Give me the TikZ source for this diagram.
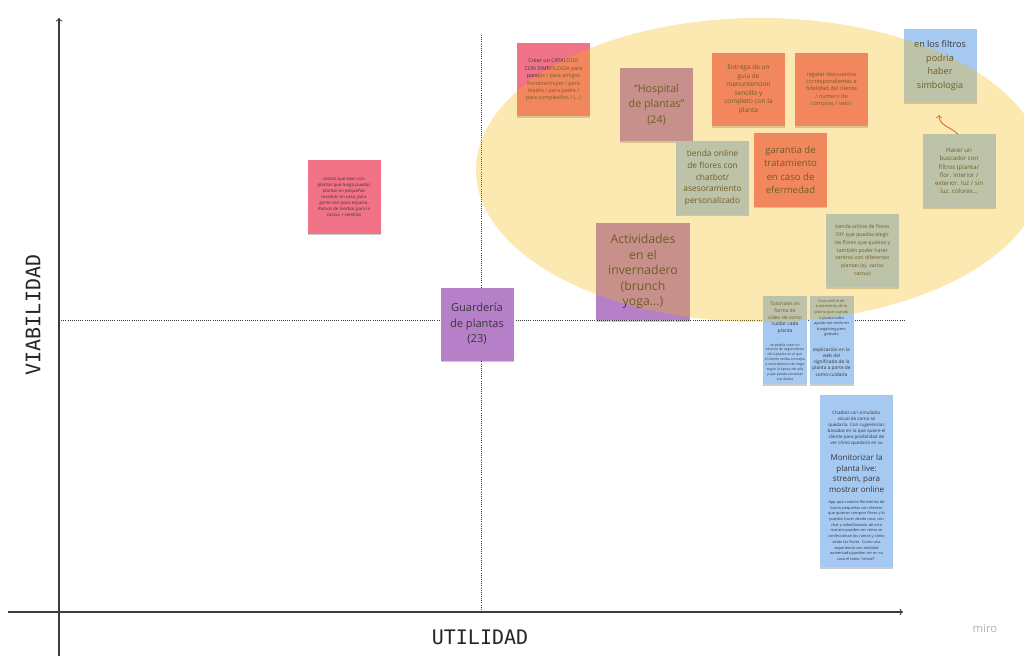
\documentclass[tikz,border=0pt]{standalone}
\usepackage{fontspec}
\setmainfont{Open Sans}
\newfontfamily\axisfont{DejaVu Sans Mono}
\usetikzlibrary{arrows,shadows}
\definecolor{notepink}{RGB}{241,115,135}
\definecolor{notepurple}{RGB}{181,128,200}
\definecolor{noteblue}{RGB}{166,201,242}
\definecolor{notetext}{RGB}{55,55,55}
\definecolor{zoneyellow}{RGB}{245,182,0}
\definecolor{axisgray}{RGB}{60,60,60}
\definecolor{linkorange}{RGB}{200,90,60}
\tikzset{every shadow/.style={fill=black,opacity=0.2,shadow xshift=0pt,shadow yshift=-1.2pt}}
\tikzset{note/.style={drop shadow,minimum width=54.75pt,minimum height=54.75pt,inner sep=1pt,align=center,text=notetext}}
\tikzset{smallnote/.style={note,minimum width=33pt,minimum height=33pt}}
\newcommand{\notesize}[2]{\fontsize{#1}{#2}\selectfont}

\begin{document}
\begin{tikzpicture}[x=0.75pt,y=-0.75pt]
\useasboundingbox (0,0) rectangle (1024,656);
% axes
\coordinate (ybot) at (59,656);
\coordinate (ytop) at (59,18);
\coordinate (xleft) at (8,612);
\coordinate (xright) at (903,612);
\draw[->,axisgray,line width=0.8pt] (ybot) -- (ytop);
\draw[->,axisgray,line width=0.8pt] (xleft) -- (xright);
\coordinate (vtop) at (481,35);
\coordinate (vbot) at (481,612);
\coordinate (hleft) at (59,320);
\coordinate (hright) at (905,320);
\draw[densely dotted,axisgray,line width=0.6pt] (vtop) -- (vbot);
\draw[densely dotted,axisgray,line width=0.6pt] (hleft) -- (hright);
\node (viab) [rotate=90,font=\axisfont\notesize{15}{15},text=black!85] at (33,315) {VIABILIDAD};
\node (util) [font=\axisfont\notesize{15}{15},text=black!85] at (480,637) {UTILIDAD};
\node (miro) [font=\notesize{8.5}{10},text=black!30] at (985,628) {miro};
%
\node (cestos) [note,fill=notepink,font=\notesize{3.3}{4.6}] at (344,197) {cestos que sean con\\plantas que luego puedas\\plantar en pequeñas\\macetas en casa, para\\gente con poco espacio.\\Ramos de hierbas para la\\cocina + semillas};
\node (catalogo) [note,fill=notepink,font=\notesize{4}{5.6}] at (553.5,80) {Crear un CATALOGO\\CON SIMBOLOGIA para\\parejas / para amigos\\hombre/mujer / para\\madre / para padre /\\para cumpleaños / (...)};
\node (hospital) [note,fill=notepurple,font=\notesize{8}{11.6}] at (656.5,104.5) {“Hospital\\de plantas”\\(24)};
\node (entrega) [note,fill=notepink,font=\notesize{4.9}{6.4}] at (748.5,89.5) {Entrega de un\\guia de\\manuntencion\\sencillo y\\completo con la\\planta};
\node (regalar) [note,fill=notepink,font=\notesize{4.2}{5.4}] at (831.5,89.5) {regalar descuentos\\correspondientes a\\fidelidad del cliente\\/ numero de\\compras / valor};
\node (chatweb) [note,fill=noteblue,font=\notesize{6.3}{8.8}] at (712.5,178) {tienda online\\de flores con\\chatbot/\\asesoramiento\\personalizado};
\node (garantia) [note,fill=notepink,font=\notesize{7.2}{10}] at (790.5,170) {garantia de\\tratamiento\\en caso de\\efermedad};
\node (activ) [note,fill=notepurple,minimum width=70.5pt,minimum height=72.75pt,font=\notesize{9.2}{11.6}] at (643,271.5) {Actividades\\en el\\invernadero\\(brunch\\yoga...)};
\node (filtros) [note,fill=noteblue,font=\notesize{6.8}{10.3}] at (940,65.5) {en los filtros\\podria\\haber\\simbologia};
\node (buscador) [note,fill=noteblue,font=\notesize{4.6}{6.2}] at (959,171) {Hacer un\\buscador con\\filtros (planta/\\flor. interior /\\exterior. luz / sin\\luz. colores...};
\node (diy) [note,fill=noteblue,font=\notesize{3.9}{5.8}] at (862.5,250.5) {tienda online de flores\\DIY que puedas elegir\\las flores que quieras y\\también poder hacer\\centros con diferentes\\plantas (ej. varios\\cactus)};
\node (guarderia) [note,fill=notepurple,font=\notesize{8.3}{11.6}] at (477,324) {Guardería\\de plantas\\(23)};
% small notes
\node (tutorial) [smallnote,fill=noteblue,font=\notesize{3.7}{5}] at (785,318) {Tutoriales en\\forma de\\video de como\\cuidar cada\\planta};
\node (tutextra) [smallnote,fill=noteblue,font=\notesize{2.6}{3.7}] at (785,362) {se podría crear un\\servicio de seguimiento\\de la planta en el que\\el cliente reciba consejos\\y recordatorios de riego\\según la época del año\\y que pueda consultar\\sus dudas};
\node (guia) [smallnote,fill=noteblue,font=\notesize{2.9}{4.2}] at (831.5,318) {Guía online de\\tratamiento de la\\planta que cuando\\a planta sufra\\ayuda con envío en\\bargaining pero\\gratuito};
\node (explica) [smallnote,fill=noteblue,font=\notesize{3.6}{4.6}] at (831.5,362) {explicación en la\\web del\\significado de la\\planta a parte de\\como cuidarla};
% stacked notes
\node (simul) [note,fill=noteblue,font=\notesize{3.4}{4.6}] at (856.5,431.5) {Chatbot con simulador\\visual de como se\\quedaría. Con sugerencias\\basadas en lo que quiere el\\cliente para posibilidad de\\ver cómo quedaría en su\\propio espacio};
\node (monitor) [note,fill=noteblue,minimum height=39.75pt,font=\notesize{6}{8}] at (856.5,473.5) {Monitorizar la\\planta live:\\stream, para\\mostrar online};
\node (app) [note,fill=noteblue,font=\notesize{2.9}{4.3}] at (856.5,530.5) {App que conecte floristerías de\\barrio pequeñas con clientes\\que quieran comprar flores y lo\\puedan hacer desde casa, con\\chat y videollamada, de esta\\manera pueden ver cómo se\\confeccionan los ramos y cómo\\están las flores. Como una\\experiencia con realidad\\aumentada pueden ver en su\\casa el ramo ``virtual''.};
%
\coordinate (linktip) at (939,115);
\draw[->,linkorange,line width=0.7pt] ([xshift=-0.75pt]buscador.north) to[out=135,in=-90] (linktip);
% highlighted zone
\fill[zoneyellow,fill opacity=0.3] (760,170) ellipse [x radius=213pt,y radius=114pt];
\end{tikzpicture}
\end{document}
